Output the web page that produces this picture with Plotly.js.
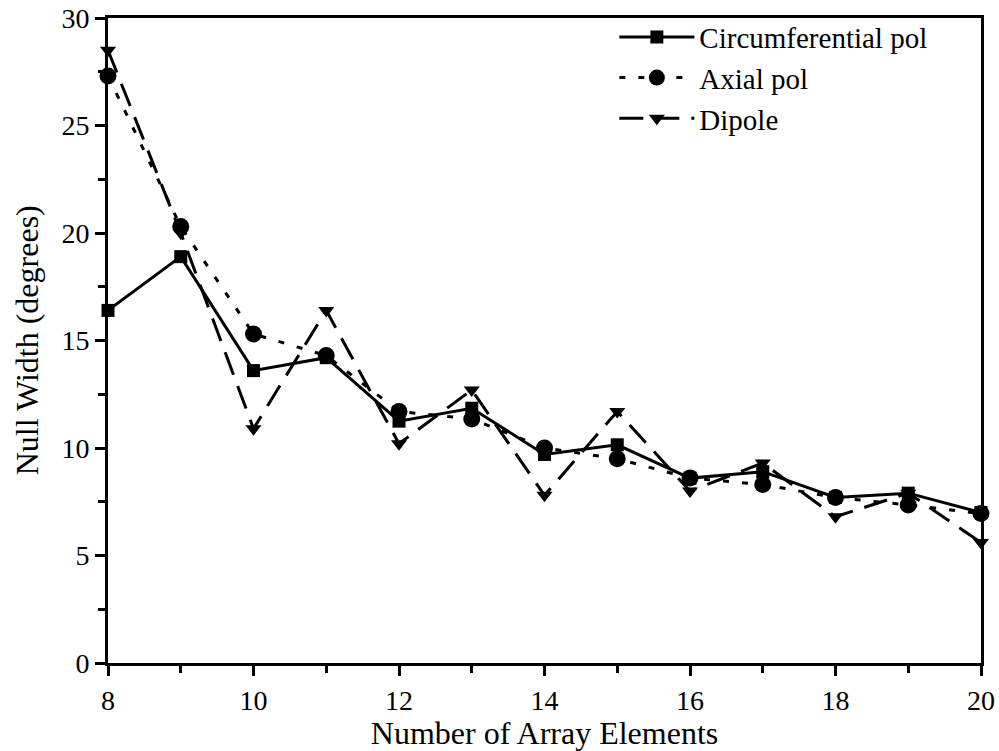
<!DOCTYPE html>
<html>
<head>
<meta charset="utf-8">
<script src="https://cdn.plot.ly/plotly-3.0.1.min.js"></script>
<style>html,body{margin:0;padding:0;background:#fff;}#chart{width:999px;height:751px;}</style>
</head>
<body>
<div id="chart"></div>
<script>
const elements = [8, 9, 10, 11, 12, 13, 14, 15, 16, 17, 18, 19, 20];
const circumferential = [16.4, 18.9, 13.6, 14.2, 11.25, 11.85, 9.7, 10.15, 8.6, 8.9, 7.7, 7.9, 7.0];
const axial = [27.3, 20.3, 15.3, 14.3, 11.7, 11.35, 10.0, 9.5, 8.6, 8.3, 7.7, 7.35, 6.95];
const dipole = [28.5, 20.0, 10.9, 16.4, 10.2, 12.7, 7.8, 11.7, 8.0, 9.3, 6.8, 7.9, 5.6];
const seriesNames = ["Circumferential pol", "Axial pol", "Dipole"];
const xTitle = "Number of Array Elements";
const yTitle = "Null Width (degrees)";

const font = "Liberation Serif";
const traces = [
  {x: elements, y: circumferential, name: seriesNames[0], mode: "lines+markers",
   line: {color: "#000", width: 3, dash: "solid"},
   marker: {symbol: "square", size: 13, color: "#000"}, cliponaxis: false},
  {x: elements, y: axial, name: seriesNames[1], mode: "lines+markers",
   line: {color: "#000", width: 3, dash: "6px,13px"},
   marker: {symbol: "circle", size: 17, color: "#000"}, cliponaxis: false},
  {x: elements, y: dipole, name: seriesNames[2], mode: "lines+markers",
   line: {color: "#000", width: 3, dash: "24px,12px"},
   marker: {symbol: "triangle-down", size: 14, color: "#000"}, cliponaxis: false}
];

const layout = {
  width: 999, height: 751,
  margin: {l: 108, r: 18, t: 18, b: 88},
  paper_bgcolor: "#fff", plot_bgcolor: "#fff",
  font: {family: font, size: 28, color: "#000"},
  showlegend: true,
  legend: {x: 0.58, y: 1.01, xanchor: "left", yanchor: "top", bgcolor: "rgba(0,0,0,0)",
           font: {family: font, size: 29, color: "#000"}, itemwidth: 75, tracegroupgap: 0},
  xaxis: {range: [8, 20], dtick: 2, tick0: 8, showgrid: false, zeroline: false,
          showline: true, linecolor: "#000", linewidth: 3, mirror: true,
          ticks: "outside", ticklen: 10, tickwidth: 3, tickcolor: "#000",
          minor: {dtick: 1, ticks: "outside", ticklen: 7, tickwidth: 3, tickcolor: "#000", showgrid: false},
          tickfont: {family: font, size: 28, color: "#000"},
          title: {text: xTitle, font: {family: font, size: 32, color: "#000"}, standoff: 0}},
  yaxis: {range: [0, 30], dtick: 5, tick0: 0, showgrid: false, zeroline: false,
          showline: true, linecolor: "#000", linewidth: 3, mirror: true,
          ticks: "outside", ticklen: 10, tickwidth: 3, tickcolor: "#000",
          minor: {dtick: 2.5, ticks: "outside", ticklen: 7, tickwidth: 3, tickcolor: "#000", showgrid: false},
          tickfont: {family: font, size: 28, color: "#000"}},
  annotations: [{text: yTitle, xref: "paper", yref: "paper", x: -0.093, y: 0.5,
                 xanchor: "center", yanchor: "middle", textangle: -90, showarrow: false,
                 font: {family: font, size: 32, color: "#000"}}]
};

Plotly.newPlot("chart", traces, layout, {displayModeBar: false, staticPlot: true});
</script>
</body>
</html>
